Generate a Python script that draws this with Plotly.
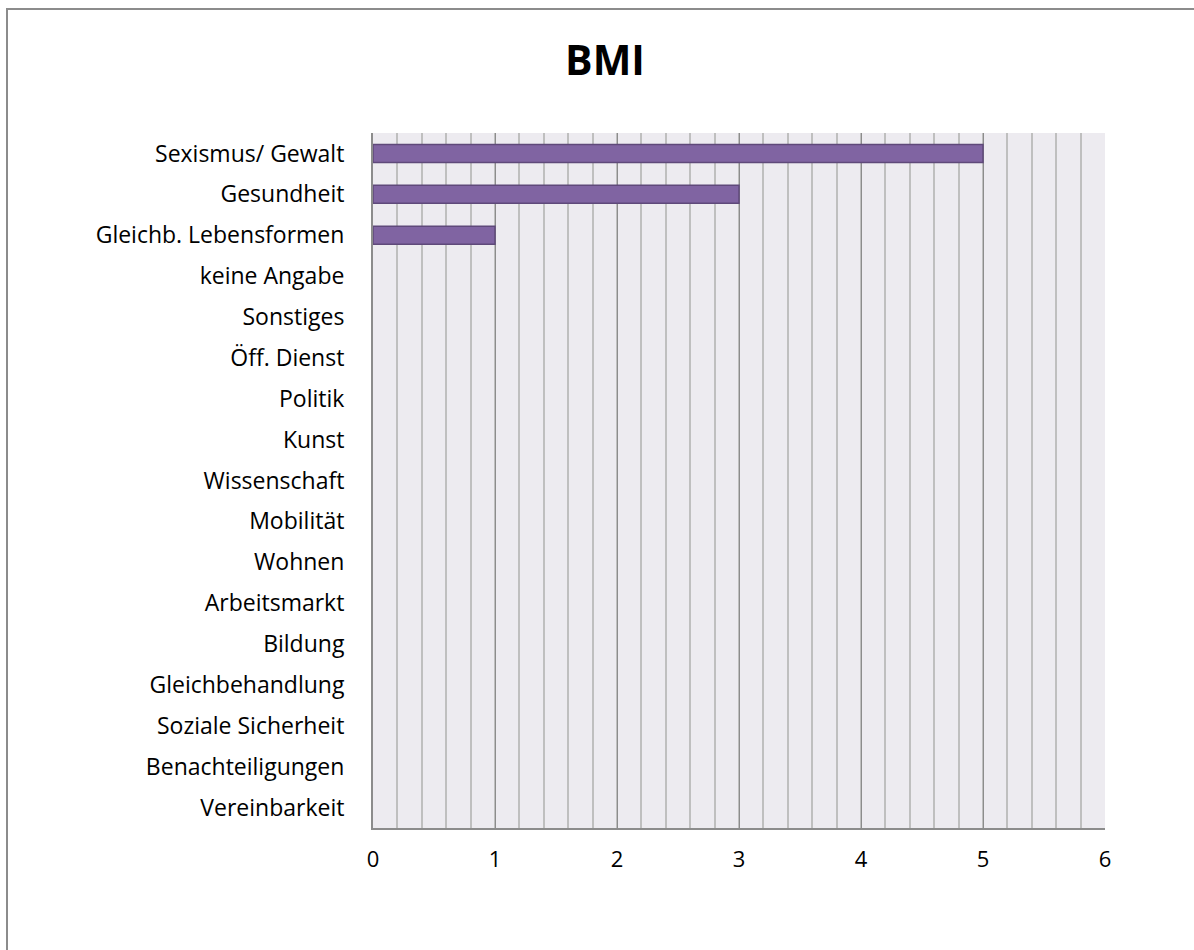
import plotly.graph_objects as go

categories = ["Sexismus/ Gewalt", "Gesundheit", "Gleichb. Lebensformen", "keine Angabe",
              "Sonstiges", "Öff. Dienst", "Politik", "Kunst", "Wissenschaft", "Mobilität",
              "Wohnen", "Arbeitsmarkt", "Bildung", "Gleichbehandlung", "Soziale Sicherheit",
              "Benachteiligungen", "Vereinbarkeit"]
values = [5, 3, 1, 0, 0, 0, 0, 0, 0, 0, 0, 0, 0, 0, 0, 0, 0]
x_ticks = [0, 1, 2, 3, 4, 5, 6]

W, H = 1194, 950
L, R, T, B = 373, 1105, 133, 828

fig = go.Figure(go.Bar(
    x=values, y=categories, orientation="h",
    marker=dict(color="#8064A2",
                line=dict(color="#5F497A", width=[1.5 if v > 0 else 0 for v in values])),
    width=0.44,
))

pw, ph = R - L, B - T
def px(x): return (x - L) / pw
def py(y): return (B - y) / ph

fig.add_shape(type="rect", xref="paper", yref="paper",
              x0=px(7), x1=px(1210), y0=py(9), y1=py(965),
              line=dict(color="#8C8C8C", width=2), fillcolor="rgba(0,0,0,0)", layer="below")

fig.update_layout(
    width=W, height=H,
    margin=dict(l=L, r=W - R, t=T, b=H - B),
    paper_bgcolor="white", plot_bgcolor="#EDEBF0",
    font=dict(family="Open Sans, Liberation Sans, sans-serif", size=22, color="#000000"),
    title=dict(text="<b>BMI</b>", x=605 / W, xanchor="center", y=1 - 61 / H, yanchor="middle",
               font=dict(size=41, color="#000000")),
    showlegend=False,
    xaxis=dict(range=[0, 6], tickvals=x_ticks, showgrid=True, gridcolor="#8C8C8C", gridwidth=1.2,
               minor=dict(dtick=0.2, showgrid=True, gridcolor="#BFBFBF", gridwidth=1.5),
               showline=True, linecolor="#8C8C8C", linewidth=2, zeroline=False,
               ticks="outside", ticklen=11, tickcolor="rgba(0,0,0,0)", mirror=False,
               tickfont=dict(size=22)),
    yaxis=dict(categoryorder="array", categoryarray=categories[::-1], showgrid=False,
               showline=True, linecolor="#8C8C8C", linewidth=2, zeroline=False,
               ticks="outside", ticklen=22, tickcolor="rgba(0,0,0,0)",
               tickfont=dict(size=23)),
)

fig.write_html("out.html")
